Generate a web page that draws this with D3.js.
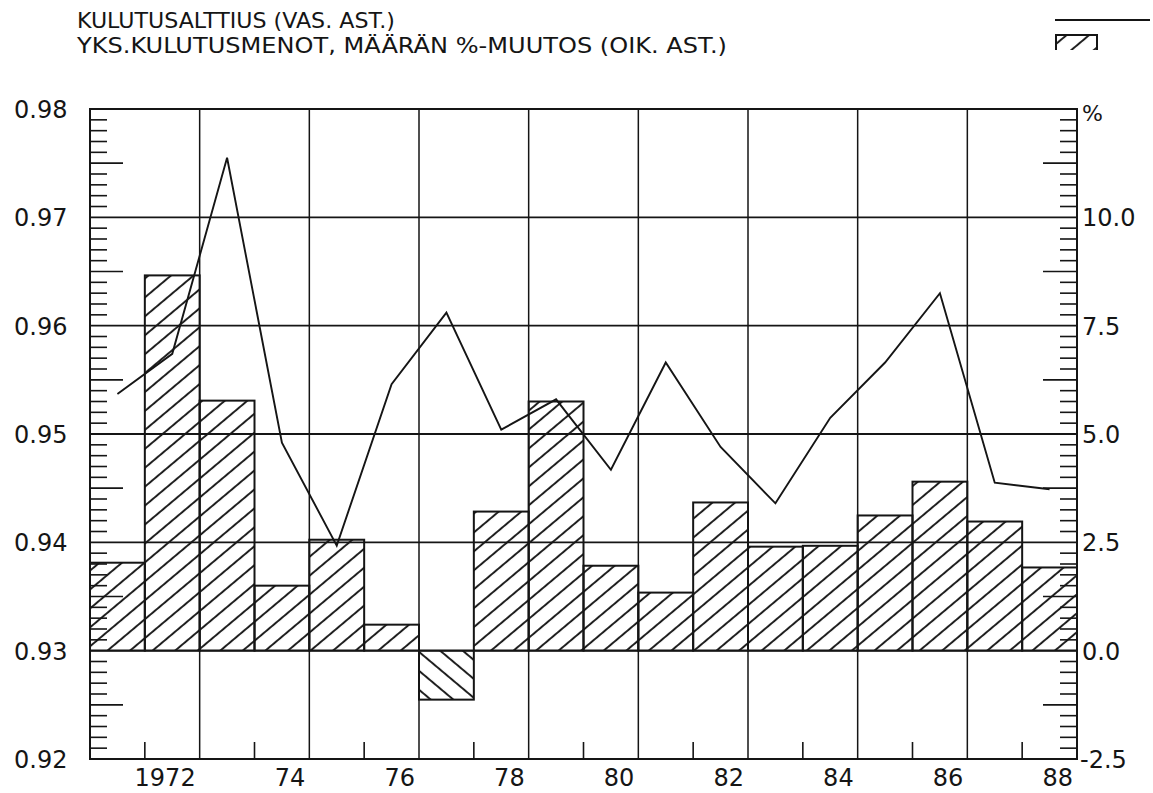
<!DOCTYPE html>
<html>
<head>
<meta charset="utf-8">
<script src="https://cdn.jsdelivr.net/npm/d3@7"></script>
<style>
  html, body { margin: 0; padding: 0; background: #fff; }
  svg { display: block; }
  text { font-family: "DejaVu Sans", sans-serif; fill: #151515; }
</style>
</head>
<body>
<svg id="chart" width="1153" height="793"></svg>
<script>
// ---- data ----
const years = [1971,1972,1973,1974,1975,1976,1977,1978,1979,1980,1981,1982,1983,1984,1985,1986,1987,1988];
// Kulutusalttius (left axis)
const propensity = [0.9537,0.9574,0.9755,0.9492,0.9397,0.9546,0.9612,0.9504,0.9532,0.9467,0.9566,0.9488,0.9436,0.9515,0.9566,0.9630,0.9455,0.9449];
// Yks. kulutusmenot, määrän %-muutos (right axis)
const consumptionChange = [2.03,8.66,5.77,1.50,2.56,0.60,-1.13,3.21,5.75,1.96,1.34,3.42,2.40,2.42,3.12,3.90,2.98,1.92];
const leftTicks = [0.92,0.93,0.94,0.95,0.96,0.97,0.98];
const leftTickLabels = ["0.92","0.93","0.94","0.95","0.96","0.97","0.98"];
const rightTicks = [-2.5,0,2.5,5,7.5,10];
const rightTickLabels = ["-2.5","0.0","2.5","5.0","7.5","10.0"];
const xLabelYears = [1972,1974,1976,1978,1980,1982,1984,1986,1988];
const xLabels = ["1972","74","76","78","80","82","84","86","88"];
const titleLines = ["KULUTUSALTTIUS (VAS. AST.)","YKS.KULUTUSMENOT, MÄÄRÄN %-MUUTOS (OIK. AST.)"];

// ---- layout ----
const L = 90, R = 1077, T = 109, B = 759;
const ink = "#151515";
const svg = d3.select("#chart");

const x = d3.scaleBand().domain(years).range([L, R]).padding(0);
const yL = d3.scaleLinear().domain([0.92, 0.98]).range([B, T]);
const yR = d3.scaleLinear().domain([-2.5, 12.5]).range([B, T]);

// hatch patterns
const defs = svg.append("defs");
function hatch(id, angle) {
  const p = defs.append("pattern").attr("id", id)
    .attr("patternUnits", "userSpaceOnUse")
    .attr("width", 14.5).attr("height", 20)
    .attr("patternTransform", `rotate(${angle})`);
  p.append("line").attr("x1", 2).attr("y1", -2).attr("x2", 2).attr("y2", 22)
    .attr("stroke", ink).attr("stroke-width", 1.9);
}
hatch("hatchUp", 50);
hatch("hatchDown", -50);

// gridlines
const g = svg.append("g");
g.selectAll("line.hg").data(leftTicks.slice(1, -1)).join("line")
  .attr("x1", L).attr("x2", R)
  .attr("y1", d => yL(d)).attr("y2", d => yL(d))
  .attr("stroke", ink).attr("stroke-width", 1.8);
const evenYears = years.filter(y => y % 2 === 0 && y < 1988);
g.selectAll("line.vg").data(evenYears).join("line")
  .attr("x1", d => x(d) + x.bandwidth()).attr("x2", d => x(d) + x.bandwidth())
  .attr("y1", T).attr("y2", B)
  .attr("stroke", ink).attr("stroke-width", 1.5);

// bars
svg.append("g").selectAll("rect").data(years).join("rect")
  .attr("x", (d) => x(d))
  .attr("width", x.bandwidth())
  .attr("y", (d, i) => Math.min(yR(consumptionChange[i]), yR(0)))
  .attr("height", (d, i) => Math.abs(yR(consumptionChange[i]) - yR(0)))
  .attr("fill", (d, i) => consumptionChange[i] < 0 ? "url(#hatchDown)" : "url(#hatchUp)")
  .attr("stroke", ink).attr("stroke-width", 2);

// frame
svg.append("rect").attr("x", L).attr("y", T).attr("width", R - L).attr("height", B - T)
  .attr("fill", "none").attr("stroke", ink).attr("stroke-width", 2);

// left inner ticks
const leftMinor = d3.range(0, 61).map(i => 0.92 + i * 0.001);
svg.append("g").selectAll("line").data(leftMinor).join("line")
  .attr("x1", L)
  .attr("x2", (d, i) => L + (i % 10 === 0 ? 0 : (i % 5 === 0 ? 33 : 17)))
  .attr("y1", d => yL(d)).attr("y2", d => yL(d))
  .attr("stroke", ink).attr("stroke-width", 1.6);
// right inner ticks
const rightMinor = d3.range(0, 61).map(i => -2.5 + i * 0.25);
svg.append("g").selectAll("line").data(rightMinor).join("line")
  .attr("x1", R)
  .attr("x2", (d, i) => R - (i % 10 === 0 ? 0 : (i % 5 === 0 ? 34 : 17)))
  .attr("y1", d => yR(d)).attr("y2", d => yR(d))
  .attr("stroke", ink).attr("stroke-width", 1.6);
// bottom ticks at odd-year ends
const oddYears = years.filter(y => y % 2 === 1 && y < 1988);
svg.append("g").selectAll("line").data(oddYears).join("line")
  .attr("x1", d => x(d) + x.bandwidth()).attr("x2", d => x(d) + x.bandwidth())
  .attr("y1", B).attr("y2", B - 17)
  .attr("stroke", ink).attr("stroke-width", 1.6);

// line
const line = d3.line()
  .x((d, i) => x(years[i]) + x.bandwidth() / 2)
  .y(d => yL(d));
svg.append("path").datum(propensity)
  .attr("d", line).attr("fill", "none")
  .attr("stroke", ink).attr("stroke-width", 1.9).attr("stroke-linejoin", "miter");

// tick labels
svg.append("g").selectAll("text").data(leftTicks).join("text")
  .attr("x", 14).attr("y", d => yL(d) + 9)
  .attr("font-size", 24)
  .text((d, i) => leftTickLabels[i]);
svg.append("g").selectAll("text").data(rightTicks).join("text")
  .attr("x", (d) => d < 0 ? 1080 : 1082).attr("y", d => yR(d) + 9)
  .attr("font-size", 24)
  .text((d, i) => rightTickLabels[i]);
svg.append("text").attr("x", 1082).attr("y", T + 12).attr("font-size", 22).text("%");
svg.append("g").selectAll("text").data(xLabelYears).join("text")
  .attr("x", d => x(d) + x.bandwidth() - 4).attr("y", 786)
  .attr("text-anchor", "end").attr("font-size", 24)
  .text((d, i) => xLabels[i]);

// title / legend text
svg.append("text").attr("x", 77).attr("y", 28).attr("font-size", 22)
  .attr("textLength", 318).attr("lengthAdjust", "spacingAndGlyphs").text(titleLines[0]);
svg.append("text").attr("x", 77).attr("y", 53).attr("font-size", 22)
  .attr("textLength", 650).attr("lengthAdjust", "spacingAndGlyphs").text(titleLines[1]);

// legend symbols
svg.append("line").attr("x1", 1055).attr("x2", 1150).attr("y1", 20).attr("y2", 20)
  .attr("stroke", ink).attr("stroke-width", 1.8);
svg.append("rect").attr("x", 1056).attr("y", 35).attr("width", 41).attr("height", 15)
  .attr("fill", "url(#hatchUp)");
svg.append("path").attr("d", "M1056,50 V35 H1097 V50")
  .attr("fill", "none").attr("stroke", ink).attr("stroke-width", 2);
</script>
</body>
</html>
